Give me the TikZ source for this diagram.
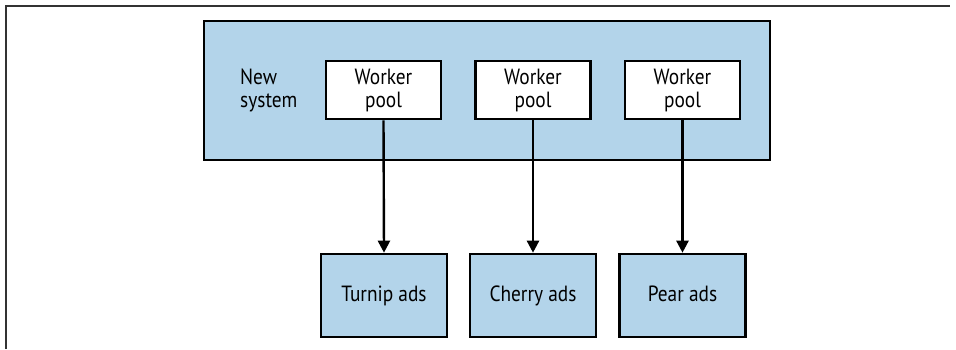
\documentclass[tikz,border=0pt]{standalone}
\usepackage{fontspec}
\setmainfont[FakeStretch=0.88]{PT Sans}
\usetikzlibrary{arrows.meta}
\definecolor{boxblue}{HTML}{B3D4EA}
\begin{document}
\begin{tikzpicture}[x=1pt,y=-1pt,
  txt/.style={font=\fontsize{22}{23}\selectfont},
  frameline/.style={draw=black!80, line width=1.2pt},
  bigbox/.style={draw=black, line width=2.8pt, fill=boxblue},
  poolbox/.style={txt, draw=black, line width=2.6pt, fill=white, minimum width=115pt, minimum height=58pt, inner sep=0pt, align=center},
  adsbox/.style={txt, draw=black, line width=2.6pt, fill=boxblue, minimum width=126pt, minimum height=83pt, inner sep=0pt, text height=16pt, text depth=5pt},
  arr/.style={line width=2.4pt, -{Triangle[length=12pt,width=12pt]}}]
\useasboundingbox (0,0) rectangle (956,349);
\fill[white] (0,0) rectangle (956,349);
\draw[frameline] (6,349) -- (6,6) -- (950,6);
\draw[bigbox] (204,21) rectangle (770,160);
\node[txt, anchor=west, align=left, inner sep=0pt] (ns) at (240,90) {New\\system};
\node[poolbox] (p1) at (383.5,90) {Worker\\pool};
\node[poolbox] (p2) at (533,90) {Worker\\pool};
\node[poolbox] (p3) at (682.5,90) {Worker\\pool};
\node[adsbox] (a1) at (384,295.5) {Turnip ads};
\node[adsbox] (a2) at (533,295.5) {Cherry ads};
\node[adsbox] (a3) at (682.5,295.5) {Pear ads};
\draw[arr] (p1.south) -- (a1.north);
\draw[arr] (p2.south) -- (a2.north);
\draw[arr] (p3.south) -- (a3.north);
\end{tikzpicture}
\end{document}
